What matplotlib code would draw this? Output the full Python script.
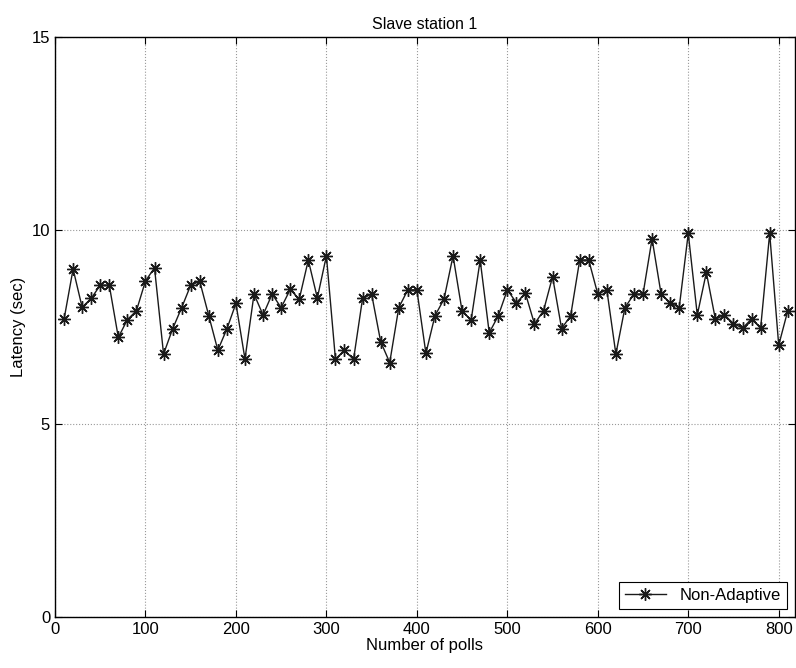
import matplotlib
matplotlib.use('Agg')
import matplotlib.pyplot as plt

plt.rcParams['font.family'] = ['Liberation Sans', 'DejaVu Sans']

# polls 10..810, latency in seconds
polls = list(range(10, 820, 10))
latency = [
    7.70, 9.00, 8.01, 8.24, 8.58, 8.58, 7.23, 7.69, 7.92, 8.69,
    9.03, 6.80, 7.45, 8.00, 8.58, 8.68, 7.79, 6.90, 7.45, 8.11,
    6.67, 8.35, 7.81, 8.35, 8.00, 8.47, 8.22, 9.23, 8.25, 9.34,
    6.67, 6.90, 6.66, 8.24, 8.35, 7.12, 6.58, 8.00, 8.46, 8.46,
    6.82, 7.79, 8.22, 9.34, 7.91, 7.68, 9.23, 7.35, 7.79, 8.46,
    8.13, 8.37, 7.58, 7.92, 8.80, 7.46, 7.79, 9.23, 9.23, 8.35,
    8.46, 6.80, 8.00, 8.35, 8.35, 9.78, 8.35, 8.13, 8.00, 9.92,
    7.81, 8.91, 7.70, 7.81, 7.59, 7.47, 7.71, 7.47, 9.92, 7.03,
    7.92,
]
xticks = [0, 100, 200, 300, 400, 500, 600, 700, 800]
yticks = [0, 5, 10, 15]

fig = plt.figure(figsize=(7.96, 6.68), dpi=100)
ax = fig.add_axes([55 / 796, 51 / 668, 740 / 796, 580 / 668])

# MATLAB style '*' marker: 8-armed asterisk
ax.plot(polls, latency, color='#1a1a1a', linewidth=1.0, marker=(8, 2, 0),
        markersize=9, markeredgewidth=1.0, label='Non-Adaptive')

ax.set_xlim(0, 818)
ax.set_ylim(0, 15)
ax.set_xticks(xticks)
ax.set_yticks(yticks)
ax.grid(True, linestyle=':', color='#999999', linewidth=0.8)
ax.tick_params(direction='in', top=True, right=True, labelsize=12, length=5)
for s in ax.spines.values():
    s.set_linewidth(1.0)

ax.set_title('Slave station 1', fontsize=11.5)
ax.set_xlabel('Number of polls', fontsize=12, labelpad=1)
ax.set_ylabel('Latency (sec)', fontsize=12)

leg = ax.legend(loc='lower right', fontsize=12, fancybox=False, framealpha=1,
                edgecolor='black', borderpad=0.35, handlelength=2.5,
                borderaxespad=0.5)
leg.get_frame().set_linewidth(0.8)

fig.savefig('out.png', dpi=100)
